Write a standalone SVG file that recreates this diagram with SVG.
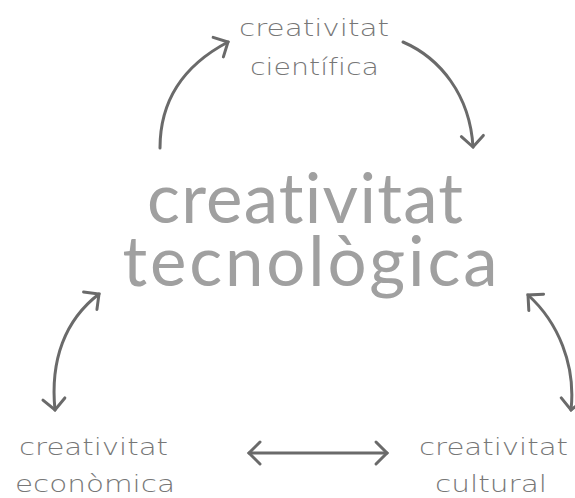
<svg xmlns="http://www.w3.org/2000/svg" width="575" height="498" viewBox="0 0 575 498">
  <style>
    text { text-anchor: middle; font-variant-ligatures: none; font-feature-settings: "liga" 0, "clig" 0; }
    .label { font-family: "DejaVu Sans", "Lato", "Liberation Sans", sans-serif; font-weight: 200; fill: #777777; font-size: 23px; }
    .title { font-family: "Lato", "Liberation Sans", sans-serif; font-weight: 400; fill: #a0a0a0; font-size: 69px; }
    .link { fill: none; stroke: #6a6a6a; stroke-width: 3; stroke-linecap: round; }
  </style>
  <defs>
    <marker id="chevron" markerUnits="userSpaceOnUse" viewBox="-14 -14 18 28" refX="0" refY="0" markerWidth="18" markerHeight="28" orient="auto-start-reverse" overflow="visible">
      <path d="M -11 -11 L 0 0 L -11 11" fill="none" stroke="#6a6a6a" stroke-width="3" stroke-linecap="round" stroke-linejoin="miter"/>
    </marker>
  </defs>

  <g id="connectors">
    <path class="link" d="M160,148 C160,95 190,62 228,42" marker-end="url(#chevron)"/>
    <path class="link" d="M403,42 C440,58 470,95 473,147" marker-end="url(#chevron)"/>
    <path class="link" d="M55,410 C50,360 65,320 99,294" marker-start="url(#chevron)" marker-end="url(#chevron)"/>
    <path class="link" d="M528,295 C558,322 576,365 571,410" marker-start="url(#chevron)" marker-end="url(#chevron)"/>
    <path class="link" d="M249,453 L387,453" marker-start="url(#chevron)" marker-end="url(#chevron)"/>
  </g>

  <g id="tecnologica">
    <text class="title" x="305" y="223" textLength="316" lengthAdjust="spacing">creativitat</text>
    <text class="title" x="310" y="286" textLength="375" lengthAdjust="spacing">tecnològica</text>
  </g>

  <g id="cientifica">
    <text class="label" x="314" y="36" textLength="150" lengthAdjust="spacingAndGlyphs">creativitat</text>
    <text class="label" x="314.5" y="75" textLength="129" lengthAdjust="spacingAndGlyphs">científica</text>
  </g>

  <g id="economica">
    <text class="label" x="93.5" y="455" textLength="149" lengthAdjust="spacingAndGlyphs">creativitat</text>
    <text class="label" x="95" y="492" textLength="160" lengthAdjust="spacingAndGlyphs">econòmica</text>
  </g>

  <g id="cultural">
    <text class="label" x="493.5" y="455" textLength="149" lengthAdjust="spacingAndGlyphs">creativitat</text>
    <text class="label" x="491" y="492" textLength="112" lengthAdjust="spacingAndGlyphs">cultural</text>
  </g>
</svg>
